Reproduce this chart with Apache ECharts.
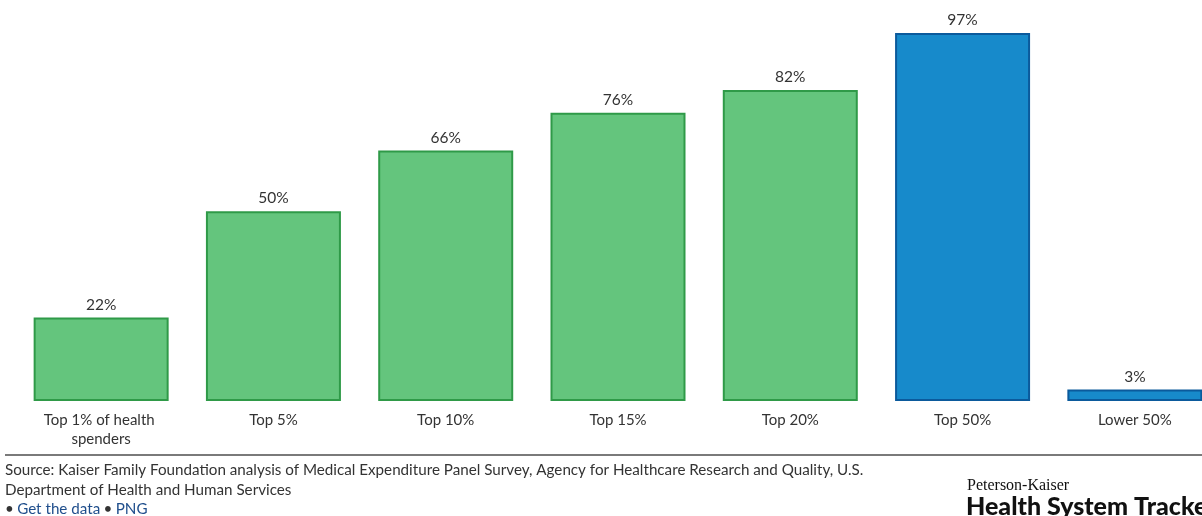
<!DOCTYPE html>
<html>
<head>
<meta charset="utf-8">
<script src="https://cdn.jsdelivr.net/npm/echarts@6/dist/echarts.min.js"></script>
<style>
html,body{margin:0;padding:0;background:#fff;overflow:hidden;width:1202px;height:516px;}
#chart{width:1221px;height:516px;}
</style>
</head>
<body>
<div id="chart"></div>
<script>
const categories = ["Top 1% of health spenders", "Top 5%", "Top 10%", "Top 15%", "Top 20%", "Top 50%", "Lower 50%"];
const values = [22, 50, 66, 76, 82, 97, 3];
const groups = ["green", "green", "green", "green", "green", "blue", "blue"];

const palette = {
  green: { fill: "#64c57d", border: "#2f9a48" },
  blue: { fill: "#178acb", border: "#0b5a9c" }
};

const chart = echarts.init(document.getElementById('chart'), null, { renderer: 'canvas' });
chart.setOption({
  animation: false,
  backgroundColor: '#ffffff',
  textStyle: { fontFamily: 'Lato, "Open Sans", sans-serif' },
  grid: { left: 15, right: 0, top: 21.6, height: 379.4, containLabel: false },
  xAxis: {
    type: 'category',
    data: categories,
    axisLine: { show: false },
    axisTick: { show: false },
    axisLabel: {
      color: '#333333', fontSize: 15, margin: 10, lineHeight: 19,
      width: 140, overflow: 'break', interval: 0,
      fontFamily: 'Lato, sans-serif'
    }
  },
  yAxis: {
    type: 'value', min: 0, max: 100,
    show: false, splitLine: { show: false }
  },
  series: [{
    type: 'bar',
    barWidth: 135,
    data: values.map((v, i) => ({
      value: v,
      itemStyle: {
        color: palette[groups[i]].fill,
        borderColor: palette[groups[i]].border,
        borderWidth: 2
      }
    })),
    label: {
      show: true, position: 'top', distance: 5,
      formatter: '{c}%', color: '#333333', fontSize: 15.5,
      fontFamily: 'Lato, sans-serif'
    }
  }],
  graphic: [
    { type: 'line', shape: { x1: 5, y1: 455, x2: 1221, y2: 455 }, style: { stroke: '#7a7a7a', lineWidth: 2 } },
    { type: 'text', left: 5, top: 463, style: { text: 'Source: Kaiser Family Foundation analysis of Medical Expenditure Panel Survey, Agency for Healthcare Research and Quality, U.S.', fill: '#333333', font: '15.2px Lato, sans-serif' } },
    { type: 'text', left: 5, top: 483, style: { text: 'Department of Health and Human Services', fill: '#333333', font: '15.2px Lato, sans-serif' } },
    { type: 'text', left: 5, top: 502, style: {
        text: '{b|•} {l|Get the data} {b|•} {l|PNG}',
        rich: {
          b: { fill: '#333333', font: '15.2px Lato, sans-serif' },
          l: { fill: '#1f4e8c', font: '15.2px Lato, sans-serif' }
        }
      } },
    { type: 'text', left: 967, top: 478, style: { text: 'Peterson-Kaiser', fill: '#111111', font: '16px "Liberation Serif", "DejaVu Serif", serif' } },
    { type: 'text', left: 966, top: 494, style: { text: 'Health System Tracker', fill: '#111111', font: '900 25px Lato, sans-serif' } }
  ]
});
</script>
</body>
</html>
